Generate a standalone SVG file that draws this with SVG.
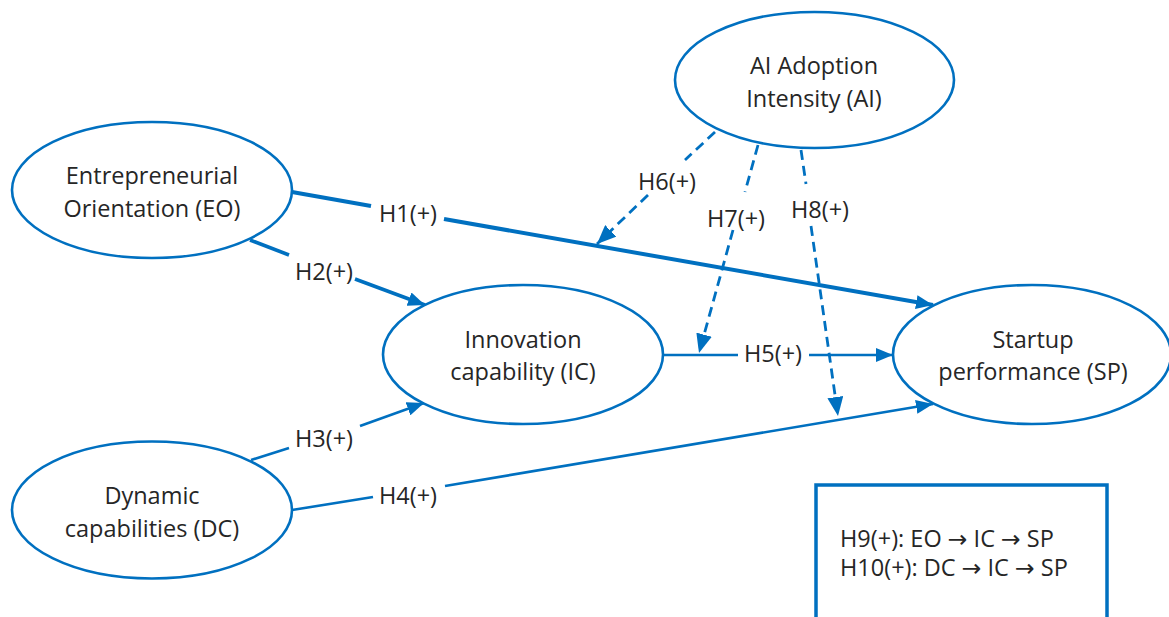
<svg xmlns="http://www.w3.org/2000/svg" width="1169" height="617" viewBox="0 0 1169 617">
<defs>
<style>
.node{fill:#fff;stroke:#0070C0;stroke-width:2.6}
.t{font-family:"Open Sans","Noto Sans","DejaVu Sans",sans-serif;font-weight:400;font-size:23.5px;fill:#262626;text-anchor:middle}
.tl{font-family:"Open Sans","Noto Sans","DejaVu Sans",sans-serif;font-weight:400;font-size:23.5px;fill:#262626}
.ar{font-family:"DejaVu Sans",sans-serif;font-weight:400}
.c{stroke:#0070C0;fill:none;stroke-linecap:butt}
.dash{stroke-dasharray:10 6;stroke-width:2.8}
</style>
<marker id="ah" markerUnits="userSpaceOnUse" markerWidth="18" markerHeight="14" refX="17" refY="7" orient="auto">
<path d="M0,0 L17,7 L0,14 z" fill="#0070C0"/>
</marker>
<marker id="ahd" markerUnits="userSpaceOnUse" markerWidth="20" markerHeight="16" refX="19" refY="8" orient="auto">
<path d="M0,0 L19,8 L0,16 z" fill="#0070C0"/>
</marker>
</defs>
<rect width="1169" height="617" fill="#fff"/>
<g id="connectors">
<line class="c" x1="292" y1="192" x2="371" y2="206" stroke-width="4"/>
<line class="c" x1="444" y1="219" x2="933" y2="305" stroke-width="4" marker-end="url(#ah)"/>
<line class="c" x1="250" y1="240" x2="289" y2="255" stroke-width="3.6"/>
<line class="c" x1="355" y1="279" x2="425" y2="305" stroke-width="3.6" marker-end="url(#ah)"/>
<line class="c" x1="251" y1="460" x2="289" y2="448" stroke-width="2.6"/>
<line class="c" x1="360" y1="426" x2="424" y2="403" stroke-width="2.6" marker-end="url(#ah)"/>
<line class="c" x1="292" y1="510" x2="373" y2="497" stroke-width="2.6"/>
<line class="c" x1="445" y1="486" x2="933" y2="404" stroke-width="2.6" marker-end="url(#ah)"/>
<line class="c" x1="663" y1="355" x2="738" y2="355" stroke-width="2.6"/>
<line class="c" x1="809" y1="355" x2="893" y2="355" stroke-width="2.6" marker-end="url(#ah)"/>
<line class="c dash" x1="715" y1="132" x2="685" y2="160"/>
<line class="c dash" x1="648" y1="195" x2="597" y2="244" marker-end="url(#ahd)"/>
<line class="c dash" x1="758" y1="145" x2="745" y2="192"/>
<line class="c dash" x1="733" y1="230" x2="699" y2="353" marker-end="url(#ahd)"/>
<line class="c dash" x1="801" y1="150" x2="806" y2="184"/>
<line class="c dash" x1="811" y1="226" x2="838" y2="416" marker-end="url(#ahd)"/>
<text class="t" x="408" y="222">H1(+)</text>
<text class="t" x="324" y="280">H2(+)</text>
<text class="t" x="324" y="447">H3(+)</text>
<text class="t" x="408" y="504">H4(+)</text>
<text class="t" x="773" y="362">H5(+)</text>
<text class="t" x="667" y="190">H6(+)</text>
<text class="t" x="736" y="227">H7(+)</text>
<text class="t" x="820" y="218">H8(+)</text>
</g>
<g id="EO">
<ellipse class="node" cx="152" cy="190" rx="140" ry="68"/>
<text class="t" x="152" y="184">Entrepreneurial</text>
<text class="t" x="152" y="217">Orientation (EO)</text>
</g>
<g id="AI">
<ellipse class="node" cx="814.5" cy="80" rx="139.5" ry="68"/>
<text class="t" x="814" y="74">AI Adoption</text>
<text class="t" x="814" y="107">Intensity (AI)</text>
</g>
<g id="IC">
<ellipse class="node" cx="523" cy="354.5" rx="140" ry="69.5"/>
<text class="t" x="523" y="348">Innovation</text>
<text class="t" x="523" y="380">capability (IC)</text>
</g>
<g id="SP">
<ellipse class="node" cx="1032" cy="354.5" rx="139" ry="69.5"/>
<text class="t" x="1033" y="348">Startup</text>
<text class="t" x="1033" y="380">performance (SP)</text>
</g>
<g id="DC">
<ellipse class="node" cx="152" cy="510" rx="140" ry="68.5"/>
<text class="t" x="152" y="504">Dynamic</text>
<text class="t" x="152" y="537">capabilities (DC)</text>
</g>
<g id="legend">
<rect x="816" y="485" width="291" height="140" fill="#fff" stroke="#0070C0" stroke-width="3.5"/>
<text class="tl" x="840" y="547">H9(+): EO <tspan class="ar">→</tspan> IC <tspan class="ar">→</tspan> SP</text>
<text class="tl" x="840" y="576">H10(+): DC <tspan class="ar">→</tspan> IC <tspan class="ar">→</tspan> SP</text>
</g>
</svg>
